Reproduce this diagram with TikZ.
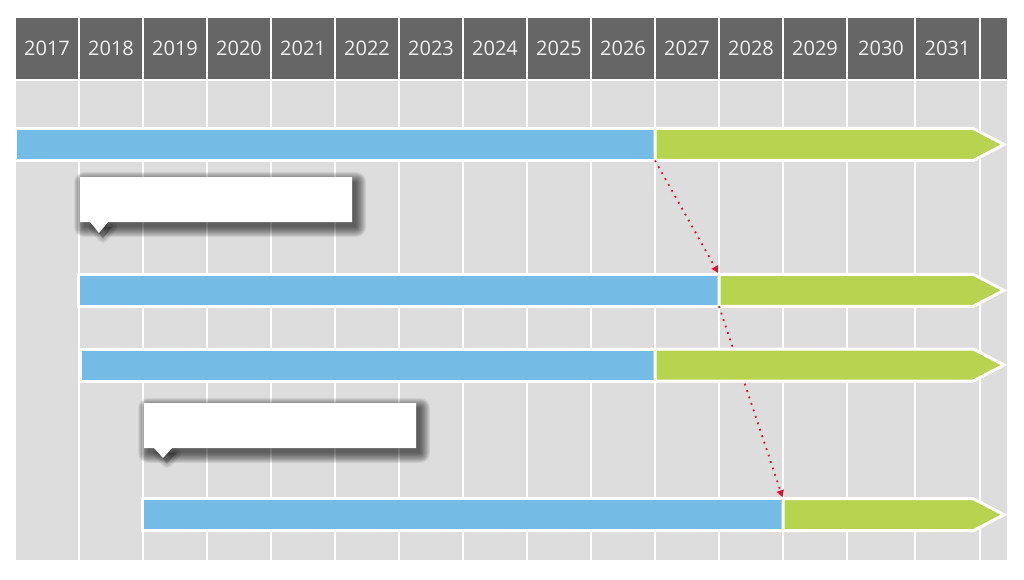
\documentclass[tikz,border=0pt]{standalone}
\usepackage{fontspec}
\usepackage{xcolor}
\usetikzlibrary{positioning,arrows.meta,shapes.arrows}
\setmainfont{Open Sans}
\definecolor{hdgray}{HTML}{666666}
\definecolor{cellgray}{HTML}{DDDDDD}
\definecolor{barblue}{HTML}{74BBE5}
\definecolor{bargreen}{HTML}{B8D350}
\definecolor{linkred}{HTML}{D7152F}

\begin{document}
\begin{tikzpicture}[x=1pt,y=-1pt,
                    yearcell/.style={fill=hdgray,text=white!94!black,minimum height=61pt,
                                     inner sep=0pt,outer sep=0pt,anchor=north west,
                                     font=\fontsize{20}{24}\selectfont},
                    bluebar/.style={rectangle,fill=barblue,draw=white,line width=3pt,
                                    minimum height=32pt,inner sep=0pt,outer sep=0pt,anchor=west},
                    greenbar/.style={single arrow,single arrow head extend=0pt,
                                     single arrow tip angle=55,fill=bargreen,draw=white,
                                     line width=3pt,minimum width=32pt,inner sep=0pt,outer sep=0pt},
                    link/.style={linkred,line width=1.8pt,dash pattern=on 1.8pt off 5pt,
                                 -{Triangle[length=7pt,width=7pt]},shorten >=1.5pt},
                    noteshade/.style={black,opacity=0.07},
                    tailshade/.style={black,opacity=0.09,line join=round}]
    \useasboundingbox (0,0) rectangle (1024,580);
    \foreach \yr [count=\i from 0] in {2017,...,2029}{
        \fill[cellgray] ({16+64*\i},81) rectangle ({78+64*\i},560);
        \node[yearcell,minimum width=62pt] (hd\yr) at ({16+64*\i},18) {\yr};
    }
    \fill[cellgray] (848,81) rectangle (914,560);
    \node[yearcell,minimum width=66pt] (hd2030) at (848,18) {2030};
    \fill[cellgray] (916,81) rectangle (979,560);
    \node[yearcell,minimum width=63pt] (hd2031) at (916,18) {2031};
    \fill[cellgray] (981,81) rectangle (1007,560);
    \node[yearcell,minimum width=26pt] (hdend) at (981,18) {};

    \node[bluebar,minimum width=639.5pt] (blueA) at (15.5,144.5) {};
    \node[greenbar,minimum height=349pt,right=0pt of blueA] (greenA) {};
    \node[bluebar,minimum width=640.5pt] (blueB) at (78.5,290.3) {};
    \node[greenbar,minimum height=285pt,right=0pt of blueB] (greenB) {};
    \node[bluebar,minimum width=640.5pt] (blueD) at (142.5,514.7) {};
    \node[greenbar,minimum height=221pt,right=0pt of blueD] (greenD) {};

    \draw[link] (blueA.south east) -- (blueB.north east);
    \draw[link] (blueB.south east) -- (blueD.north east);

    \node[bluebar,minimum width=575pt] (blueC) at (80,365) {};
    \node[greenbar,minimum height=349pt,right=0pt of blueC] (greenC) {};

    % soft shadows under the two empty notes
    \foreach \r in {0,...,10}{
        \fill[noteshade,rounded corners=\r pt] ({84-\r},{182-\r}) rectangle ({356+\r},{227+\r});
        \fill[noteshade,rounded corners=\r pt] ({148-\r},{408-\r}) rectangle ({420+\r},{453+\r});
    }
    \foreach \w in {2,6,10}{
        \filldraw[tailshade,line width=\w pt] (94,227) -- (103,238) -- (112,227) -- cycle;
        \filldraw[tailshade,line width=\w pt] (158,453) -- (167,463) -- (176,453) -- cycle;
    }
    \fill[white] (80,177) -- (352,177) -- (352,222) -- (108,222) -- (99,233) -- (90,222) -- (80,222) -- cycle;
    \fill[white] (144,403) -- (416,403) -- (416,448) -- (172,448) -- (163,458) -- (154,448) -- (144,448) -- cycle;
\end{tikzpicture}
\end{document}
